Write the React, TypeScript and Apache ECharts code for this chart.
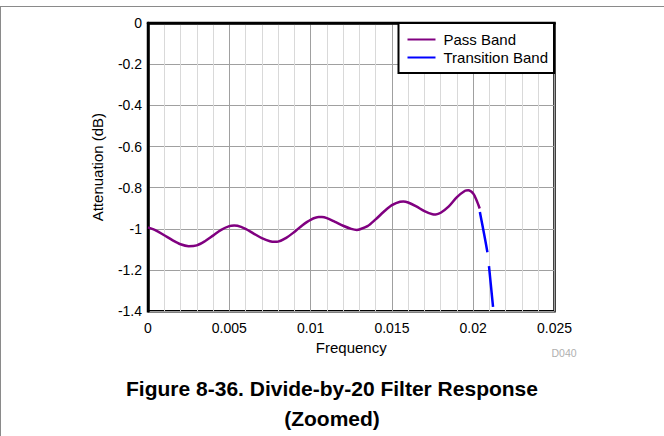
import React, { useEffect, useRef } from "react";
import * as echarts from "echarts";

const xTicks = [0, 0.005, 0.01, 0.015, 0.02, 0.025];
const yTicks = [0, -0.2, -0.4, -0.6, -0.8, -1, -1.2, -1.4];

const passBandFreq = [
  0, 0.0005, 0.001, 0.0015, 0.002, 0.0025, 0.003, 0.0035, 0.004, 0.0045,
  0.005, 0.0053, 0.0055, 0.006, 0.0065, 0.007, 0.0075, 0.0078, 0.008, 0.0085,
  0.009, 0.0095, 0.01, 0.0105, 0.0107, 0.011, 0.0115, 0.012, 0.0125, 0.01285,
  0.013, 0.0135, 0.014, 0.0145, 0.015, 0.0155, 0.0157, 0.016, 0.0165, 0.017,
  0.0175, 0.0177, 0.018, 0.0185, 0.019, 0.0195, 0.0197, 0.02, 0.0202, 0.0204,
];
const passBandDb = [
  -0.993, -1.008, -1.031, -1.055, -1.075, -1.084, -1.08, -1.06, -1.033, -1.005,
  -0.987, -0.984, -0.985, -1.0, -1.023, -1.045, -1.06, -1.063, -1.062, -1.044,
  -1.015, -0.982, -0.956, -0.943, -0.943, -0.948, -0.966, -0.985, -1.0, -1.005,
  -1.003, -0.987, -0.954, -0.917, -0.885, -0.868, -0.867, -0.872, -0.891,
  -0.914, -0.929, -0.93, -0.922, -0.891, -0.846, -0.815, -0.812, -0.828, -0.86,
  -0.901,
];

const transitionFreq = [0.02041, 0.02087, 0.02097, 0.02122];
const transitionDb = [-0.918, -1.112, -1.181, -1.379];

const seriesNames = ["Pass Band", "Transition Band"];
const seriesColors = ["#800080", "#0000ff"];

const xAxisName = "Frequency";
const yAxisName = "Attenuation (dB)";
const titleLine1 = "Figure 8-36. Divide-by-20 Filter Response";
const titleLine2 = "(Zoomed)";
const docCode = "D040";

const FONT = "Liberation Sans, Arial, Helvetica, sans-serif";

export default function App() {
  const ref = useRef<HTMLDivElement>(null);

  useEffect(() => {
    document.body.style.margin = "0";
    if (!ref.current) return;
    const chart = echarts.init(ref.current, undefined, { renderer: "svg" });

    const passData = passBandFreq.map((f, i) => [f, passBandDb[i]]);
    const transData = transitionFreq.map((f, i) => [f, transitionDb[i]]);

    chart.setOption({
      animation: false,
      backgroundColor: "#ffffff",
      textStyle: { fontFamily: FONT },
      title: [
        {
          text: titleLine1,
          left: "center",
          top: 378,
          padding: 0,
          textStyle: {
            fontFamily: FONT,
            fontSize: 21,
            fontWeight: "bold",
            color: "#000",
          },
        },
        {
          text: titleLine2,
          left: "center",
          top: 408,
          padding: 0,
          textStyle: {
            fontFamily: FONT,
            fontSize: 21,
            fontWeight: "bold",
            color: "#000",
          },
        },
      ],
      legend: {
        data: seriesNames,
        orient: "vertical",
        right: 110,
        top: 23,
        padding: [9, 6, 8, 8],
        itemWidth: 28,
        itemHeight: 14,
        itemGap: 3,
        borderColor: "#000",
        borderWidth: 2,
        backgroundColor: "#fff",
        itemStyle: { opacity: 0, borderWidth: 0 },
        lineStyle: { type: "solid", width: 2 },
        textStyle: {
          fontFamily: FONT,
          fontSize: 15,
          color: "#000",
          padding: [0, 0, 0, 3],
        },
      },
      grid: {
        left: 148,
        top: 23,
        right: 109.5,
        bottom: 124.8,
        show: true,
        borderColor: "#000",
        borderWidth: 2.5,
        backgroundColor: "transparent",
      },
      xAxis: {
        type: "value",
        min: xTicks[0],
        max: xTicks[xTicks.length - 1],
        interval: 0.005,
        name: xAxisName,
        nameLocation: "middle",
        nameGap: 25,
        nameTextStyle: { fontFamily: FONT, fontSize: 15, color: "#000" },
        axisLine: { show: true, lineStyle: { color: "#000", width: 2.5 } },
        axisTick: { show: false },
        axisLabel: {
          fontFamily: FONT,
          fontSize: 14,
          color: "#000",
          margin: 10,
        },
        splitLine: { show: true, lineStyle: { color: "#a0a0a0", width: 1 } },
        minorTick: { show: false, splitNumber: 5 },
        minorSplitLine: {
          show: true,
          lineStyle: { color: "#d9d9d9", width: 1 },
        },
      },
      yAxis: {
        type: "value",
        min: yTicks[yTicks.length - 1],
        max: yTicks[0],
        interval: 0.2,
        name: yAxisName,
        nameLocation: "middle",
        nameRotate: 90,
        nameGap: 43,
        nameTextStyle: { fontFamily: FONT, fontSize: 15, color: "#000" },
        axisLine: { show: true, lineStyle: { color: "#000", width: 2.5 } },
        axisTick: { show: false },
        axisLabel: {
          fontFamily: FONT,
          fontSize: 14,
          color: "#000",
          margin: 6,
        },
        splitLine: { show: true, lineStyle: { color: "#a0a0a0", width: 1 } },
      },
      graphic: [
        {
          type: "line",
          shape: { x1: 0, y1: 6.5, x2: 664, y2: 6.5 },
          style: { stroke: "#8a8a8a", lineWidth: 1 },
          silent: true,
        },
        {
          type: "line",
          shape: { x1: 0.5, y1: 6, x2: 0.5, y2: 436 },
          style: { stroke: "#8a8a8a", lineWidth: 1 },
          silent: true,
        },
        {
          type: "text",
          x: 564,
          y: 353,
          style: {
            text: docCode,
            fontFamily: FONT,
            fontSize: 10.5,
            fill: "#b0b0b0",
            align: "center",
            verticalAlign: "middle",
          },
          silent: true,
        },
      ],
      series: [
        {
          name: seriesNames[0],
          type: "line",
          data: passData,
          smooth: 0.3,
          symbol: "none",
          lineStyle: { color: seriesColors[0], width: 2.5 },
          itemStyle: { color: seriesColors[0] },
          z: 3,
        },
        {
          name: seriesNames[1],
          type: "line",
          data: transData,
          smooth: 0.3,
          symbol: "none",
          lineStyle: { color: seriesColors[1], width: 2.5, type: [41, 14] },
          itemStyle: { color: seriesColors[1] },
          z: 3,
        },
      ],
    });

    return () => {
      chart.dispose();
    };
  }, []);

  return (
    <div
      ref={ref}
      style={{ position: "absolute", left: 0, top: 0, width: 664, height: 436 }}
    />
  );
}
